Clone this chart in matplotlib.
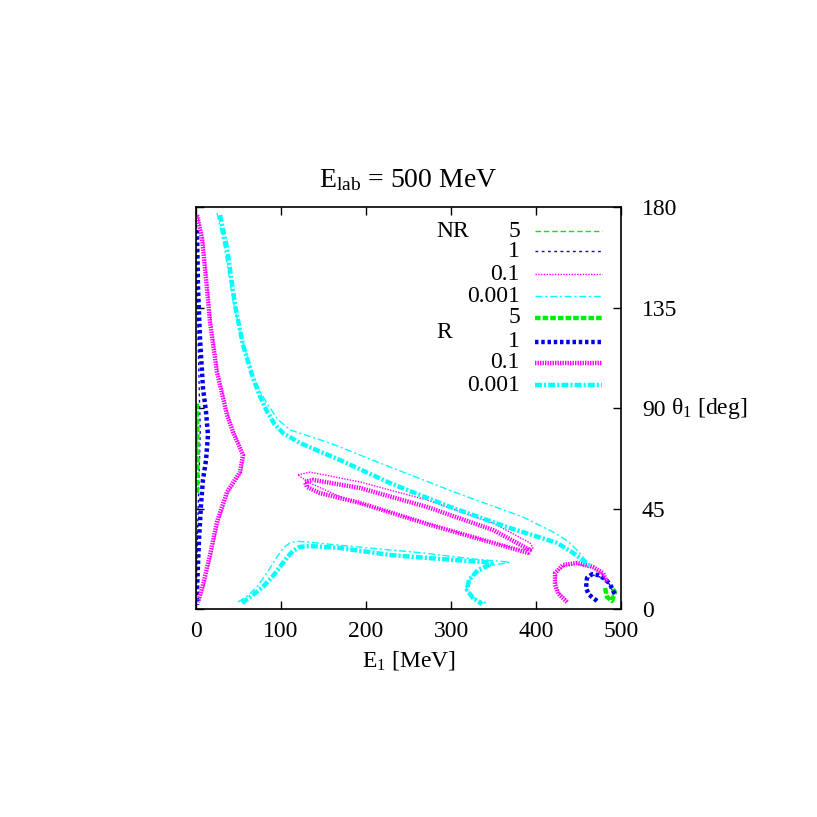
import matplotlib
matplotlib.use("Agg")
import matplotlib.pyplot as plt
from matplotlib.lines import Line2D

plt.rcParams['font.family'] = ['Liberation Serif', 'DejaVu Serif']
plt.rcParams['mathtext.fontset'] = 'custom'
plt.rcParams['mathtext.rm'] = 'Liberation Serif'
plt.rcParams['mathtext.it'] = 'Liberation Serif:italic'
plt.rcParams['lines.scale_dashes'] = False

# contour lines: (E1 [MeV], theta1 [deg])
# R = relativistic (thick), NR = non relativistic (thin)
cyan_R_upper = [(28.2, 176.4), (36.5, 161.7), (45.9, 136.1), (55.3, 118.2), (67.1, 103.4),
                (75.0, 95.5), (83.5, 88.5), (92.0, 83.0), (102.4, 78.8), (122.4, 74.3),
                (169.4, 66.7), (228.2, 56.4), (298.8, 45.7), (365.9, 36.7), (424.7, 29.6),
                (442.0, 25.5), (451.8, 22.8), (463.5, 19.3)]
cyan_NR_upper = [(24.7, 177.3), (32.9, 163.0), (43.5, 138.4), (54.1, 120.5), (67.1, 104.8),
                 (76.0, 97.0), (84.7, 91.4), (96.0, 85.0), (110.6, 80.2), (157.6, 74.3),
                 (228.2, 63.6), (307.1, 51.9), (384.7, 41.2), (420.0, 34.5), (437.0, 30.5),
                 (448.2, 26.4), (461.2, 20.6)]
cyan_R_lower = [(54.1, 2.7), (66.0, 6.0), (78.8, 9.9), (90.0, 14.5), (98.8, 18.8),
                (107.0, 23.0), (114.1, 26.0), (122.0, 27.8), (134.1, 28.2), (169.4, 27.3),
                (228.2, 24.2), (287.1, 22.4), (340.0, 21.0), (348.2, 20.2), (331.8, 17.5),
                (321.2, 13.0), (318.8, 8.5), (325.9, 4.9), (336.5, 2.2)]
cyan_NR_lower = [(49.4, 3.1), (61.0, 6.0), (71.8, 9.9), (84.0, 16.5), (95.3, 23.3),
                 (103.0, 27.5), (110.6, 29.6), (120.0, 30.3), (130.6, 30.0), (189.4, 27.8),
                 (267.1, 25.1), (325.9, 22.4), (369.4, 21.0), (345.9, 19.3), (324.7, 14.8),
                 (317.6, 9.9), (324.7, 5.4), (341.2, 2.7)]

magenta_R_left = [(1.2, 176.4), (7.1, 166.1), (12.9, 143.7), (16.5, 128.5), (24.7, 106.1),
                  (36.5, 86.9), (43.5, 79.3), (55.3, 69.0), (51.8, 61.3), (36.5, 52.4),
                  (24.7, 39.0), (16.5, 24.2), (8.2, 10.7), (2.4, 3.1)]
magenta_NR_left = [(2.0, 176.0), (8.5, 165.5), (14.0, 143.0), (17.8, 128.0), (26.0, 105.5),
                   (38.0, 86.5), (45.0, 79.0), (56.5, 68.5), (53.0, 61.0), (37.8, 52.0),
                   (26.0, 38.5), (17.8, 24.0), (9.5, 10.5), (3.5, 3.0)]
magenta_NR_mid = [(120.0, 60.0), (134.1, 61.3), (192.9, 56.9), (271.8, 48.8), (349.4, 38.5),
                  (392.9, 29.6), (396.5, 27.3), (381.2, 26.4), (310.6, 34.0), (231.8, 43.0),
                  (172.9, 49.7), (134.1, 56.4), (120.0, 60.0)]
magenta_R_mid = [(128.2, 56.9), (137.6, 57.8), (192.9, 54.2), (271.8, 45.7), (349.4, 35.4),
                 (392.9, 26.4), (390.6, 25.1), (349.4, 29.6), (271.8, 38.1), (192.9, 47.5),
                 (145.9, 51.9), (130.6, 54.6), (128.2, 56.9)]
magenta_R_right = [(436.5, 3.1), (426.0, 7.0), (422.4, 11.0), (422.4, 16.1), (431.8, 19.7),
                   (448.2, 20.6), (467.1, 18.8), (478.8, 16.1), (483.5, 12.1)]
magenta_NR_right = [(437.5, 3.5), (427.0, 7.2), (423.5, 11.0), (423.8, 16.0), (432.5, 19.3),
                    (448.0, 20.2), (466.5, 18.4), (478.0, 15.8), (482.5, 12.0)]

blue_R_left = [(1.2, 169.7), (2.4, 143.7), (4.7, 121.4), (8.2, 99.0), (11.8, 88.2),
               (14.1, 77.9), (11.8, 66.7), (8.2, 57.8), (5.9, 46.6), (3.5, 30.9),
               (1.2, 8.5), (1.2, 1.8)]
blue_NR_left = [(0.5, 172.0), (1.5, 150.0), (2.5, 120.0), (4.0, 95.0), (5.0, 80.0),
                (4.0, 65.0), (2.5, 45.0), (1.0, 20.0), (0.5, 3.0)]
blue_R_right = [(471.8, 3.6), (462.0, 6.5), (458.8, 9.5), (460.0, 13.9), (466.0, 15.6),
                (472.9, 15.2), (481.0, 13.5), (487.1, 11.2), (492.9, 6.3)]
blue_NR_right = [(472.5, 4.0), (463.0, 6.8), (460.0, 9.5), (461.0, 13.5), (466.5, 15.2),
                 (473.0, 14.7), (481.0, 13.2), (486.5, 11.0), (492.0, 6.5)]

green_R_left = [(0.8, 92.0), (1.6, 80.0), (2.0, 70.0), (1.5, 58.0), (0.8, 52.0)]
green_NR_left = [(0.5, 91.0), (1.2, 80.0), (1.5, 70.0), (1.0, 58.0), (0.5, 53.0)]
green_R_right = [(481.2, 9.4), (483.5, 5.4), (489.4, 3.6), (492.9, 7.6), (488.2, 9.9)]
green_NR_right = [(482.0, 9.0), (484.5, 5.5), (489.0, 4.2), (492.0, 7.4)]

levels = ['5', '1', '0.1', '0.001']
colors = ['#00ee00', '#0000ee', '#ff00ff', '#00ffff']
nr_dash = [(4, 2), (2, 2.5), (1, 1), (5, 2, 1.5, 2)]
r_dash = [(4, 1.5), (2.5, 2), (1, 0.8), (5, 1.5, 1.5, 1.5)]
nr_lw = 1.0
r_lw = 3.2

nr_curves = [[green_NR_left, green_NR_right], [blue_NR_left, blue_NR_right],
             [magenta_NR_left, magenta_NR_mid, magenta_NR_right], [cyan_NR_upper, cyan_NR_lower]]
r_curves = [[green_R_left, green_R_right], [blue_R_left, blue_R_right],
            [magenta_R_left, magenta_R_mid, magenta_R_right], [cyan_R_upper, cyan_R_lower]]

fig = plt.figure(figsize=(8.17, 8.17), dpi=100)
ax = fig.add_axes([0.2399, 0.2546, 0.5202, 0.4920])

for i in range(4):
    for c in nr_curves[i]:
        ax.plot([p[0] for p in c], [p[1] for p in c], color=colors[i], lw=nr_lw,
                dashes=nr_dash[i])
for i in range(4):
    for c in r_curves[i]:
        ax.plot([p[0] for p in c], [p[1] for p in c], color=colors[i], lw=r_lw,
                dashes=r_dash[i])

ax.set_xlim(0, 500)
ax.set_ylim(0, 180)
ax.set_xticks([0, 100, 200, 300, 400, 500])
ax.set_yticks([0, 45, 90, 135, 180])
ax.tick_params(axis='x', direction='in', top=True, bottom=True, length=6, width=1,
               labelsize=17, pad=9)
ax.tick_params(axis='y', direction='in', left=True, right=True, labelleft=False,
               labelright=True, length=6, width=1, labelsize=17, pad=15)
for s in ax.spines.values():
    s.set_linewidth(1.2)

ax.set_title(r'E$_{\rm lab}$ = 500 MeV', fontsize=20, pad=14)
ax.set_xlabel(r'E$_1$ [MeV]', fontsize=17, labelpad=5)
ax.text(1.118, 0.5, r'θ$_1$ [deg]', transform=ax.transAxes, fontsize=17,
        ha='left', va='center')

# legend drawn by hand, gnuplot style (label right aligned, sample to the right)
row_y = [0.940, 0.890, 0.833, 0.778, 0.725, 0.665, 0.612, 0.557]
for k in range(8):
    i = k % 4
    y = row_y[k]
    ax.text(0.762, y, levels[i], transform=ax.transAxes, fontsize=17,
            ha='right', va='center')
    lw = nr_lw if k < 4 else r_lw
    d = nr_dash[i] if k < 4 else r_dash[i]
    ax.add_line(Line2D([0.797, 0.955], [y, y], transform=ax.transAxes,
                       color=colors[i], lw=lw, dashes=d))
ax.text(0.565, 0.940, 'NR', transform=ax.transAxes, fontsize=17, ha='left', va='center')
ax.text(0.565, 0.688, 'R', transform=ax.transAxes, fontsize=17, ha='left', va='center')

fig.savefig('out.png', dpi=100)
